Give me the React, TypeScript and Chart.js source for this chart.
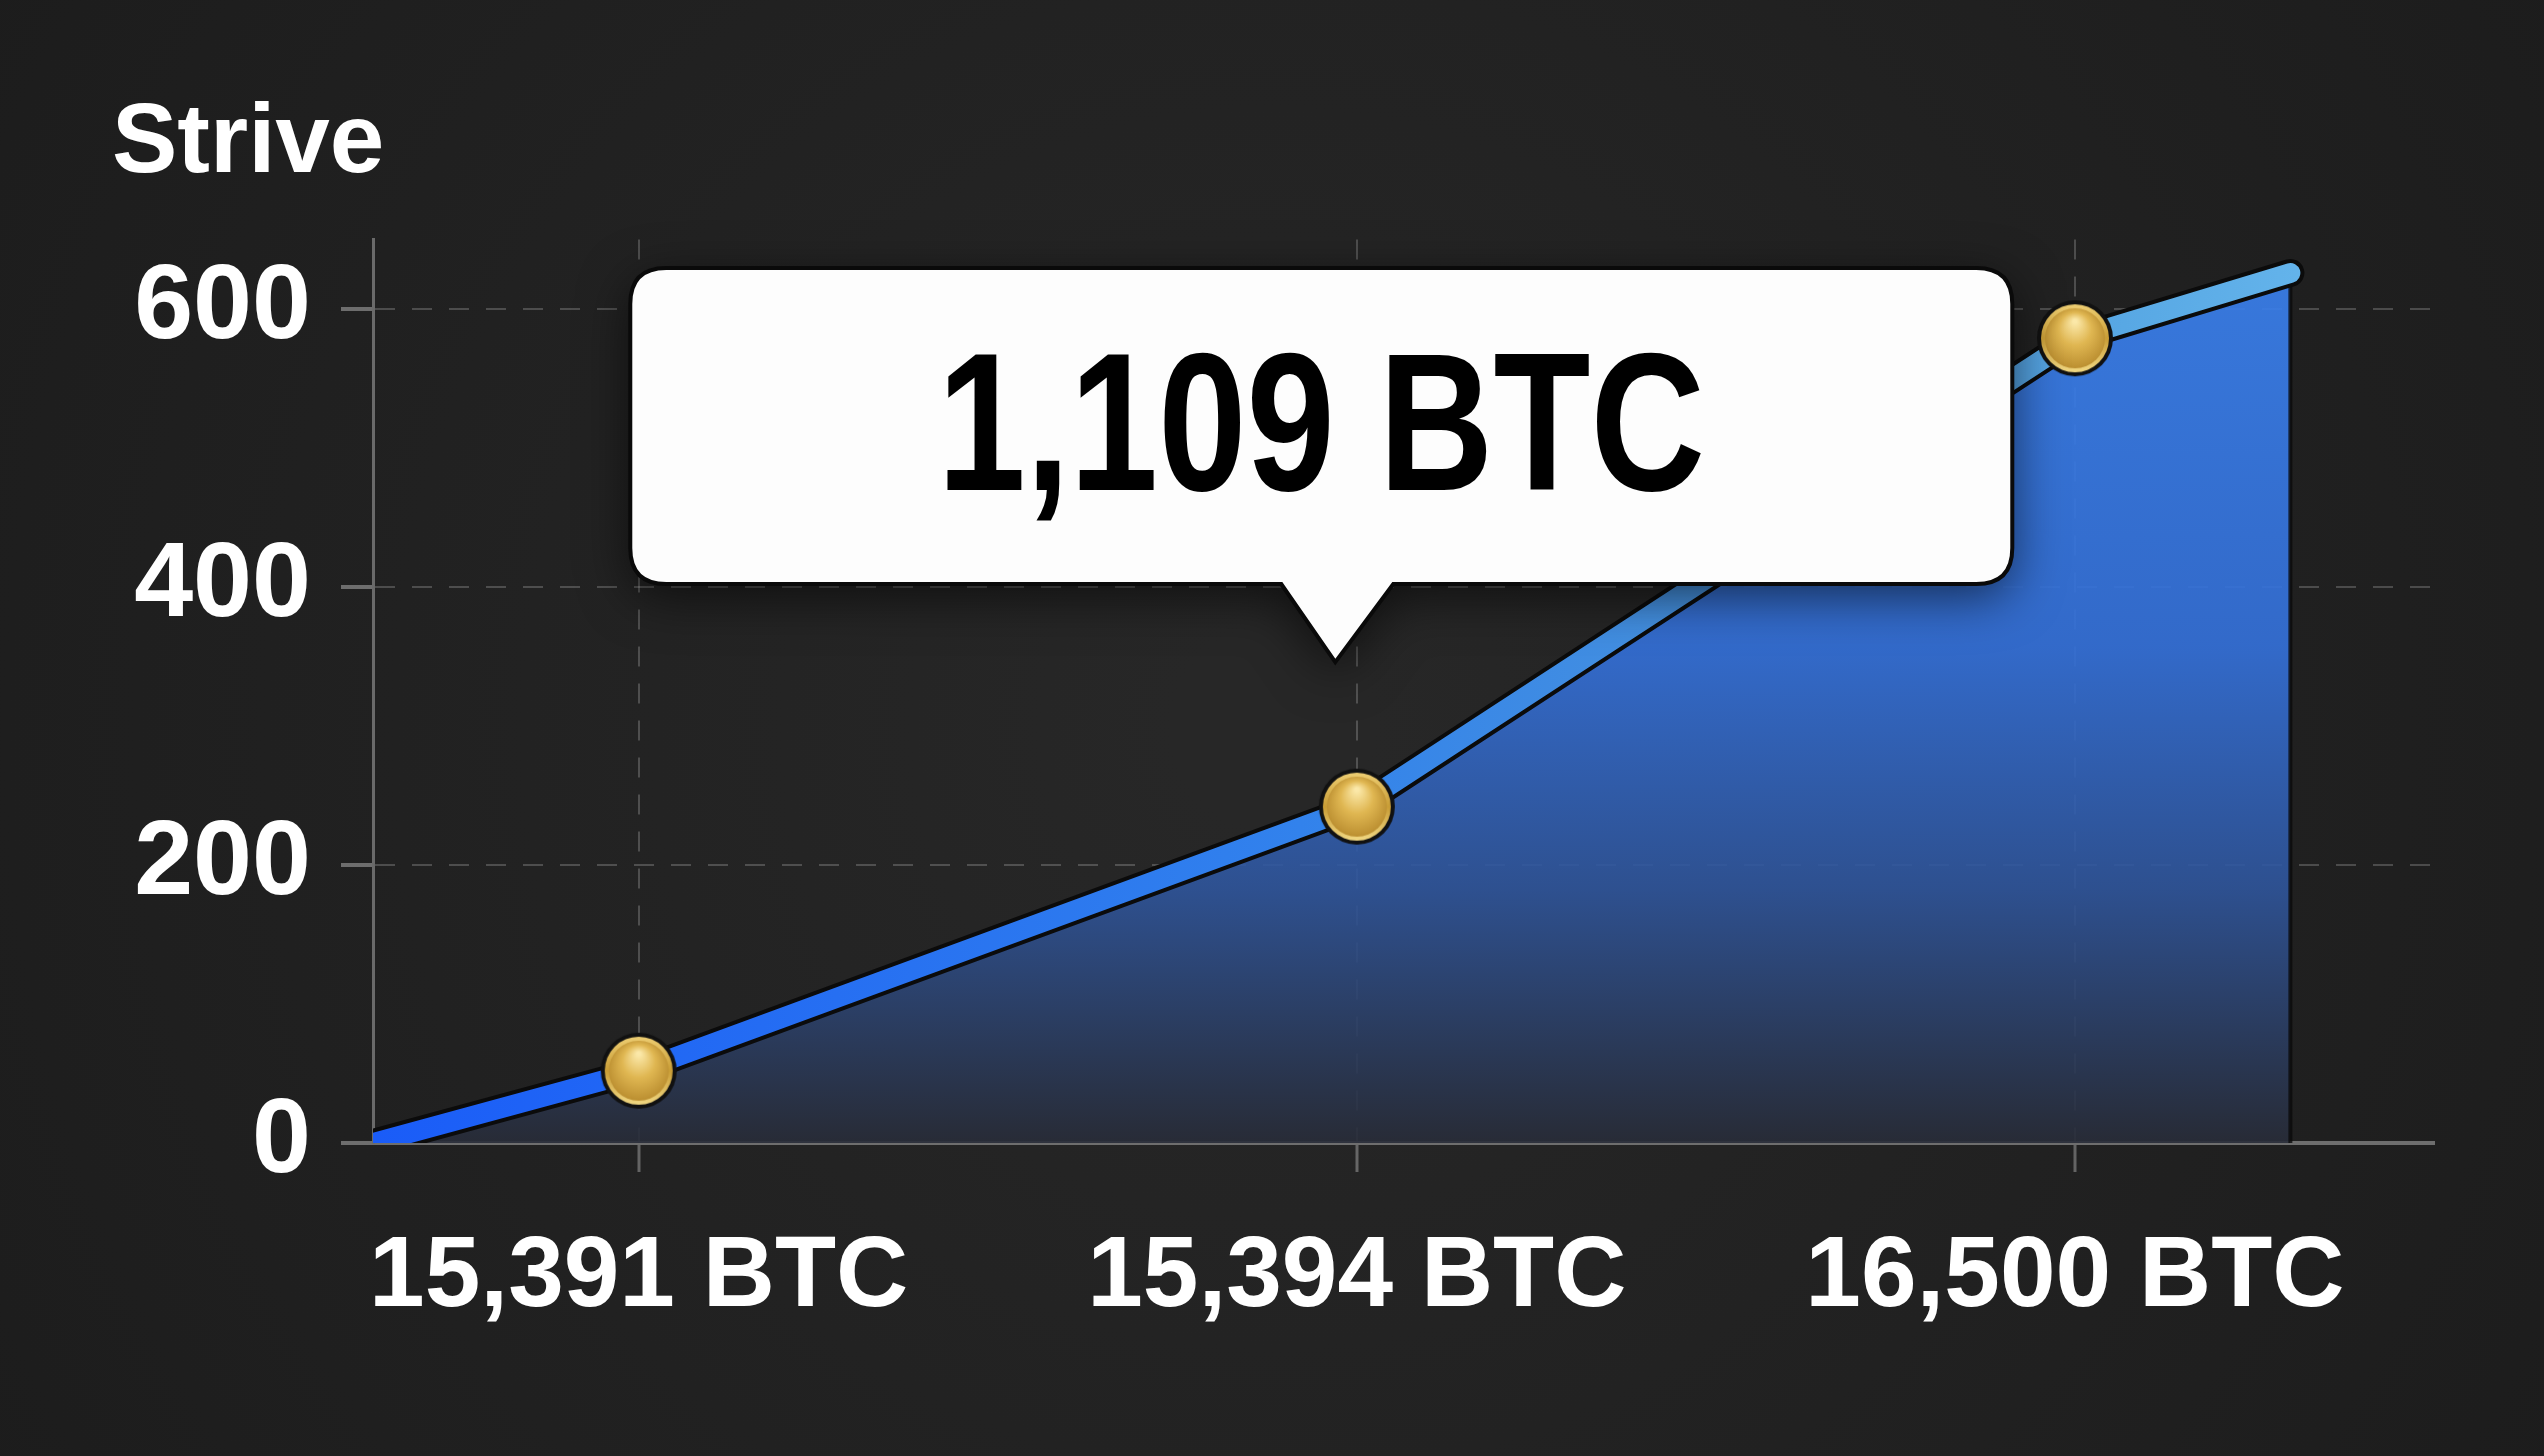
import React, { useEffect, useRef } from 'react';
import { Chart, registerables } from 'chart.js';

Chart.register(...registerables);

// chart content
const chartTitle = 'Strive';
const positions = [-0.37, 0, 1, 2, 2.3];
const values = [0, 52, 242, 579, 626];
const markerRadius = [0, 38, 38, 38, 0];
const xTickValues = [0, 1, 2];
const xTickLabels = ['15,391 BTC', '15,394 BTC', '16,500 BTC'];
const yTickValues = [0, 200, 400, 600];
const calloutLabel = '1,109 BTC';
const calloutX = 0.97;
const calloutY = 346;

const FONT = "'Liberation Sans', Arial, Helvetica, sans-serif";

function makeCoin(r: number) {
    const c = document.createElement('canvas');
    const s = Math.ceil(r * 2 + 4);
    c.width = s;
    c.height = s;
    const g = c.getContext('2d')!;
    const m = s / 2;
    g.beginPath();
    g.arc(m, m, r, 0, Math.PI * 2);
    g.fillStyle = '#111';
    g.fill();
    const rim = g.createLinearGradient(0, m - r, 0, m + r);
    rim.addColorStop(0, '#f2d47a');
    rim.addColorStop(0.5, '#c99d36');
    rim.addColorStop(1, '#f6df8c');
    g.beginPath();
    g.arc(m, m, r - 4, 0, Math.PI * 2);
    g.fillStyle = rim;
    g.fill();
    const face = g.createRadialGradient(m, m - r * 0.45, r * 0.05, m, m, r * 0.9);
    face.addColorStop(0, '#fbe8a8');
    face.addColorStop(0.45, '#e0b752');
    face.addColorStop(1, '#b5882b');
    g.beginPath();
    g.arc(m, m, r - 8, 0, Math.PI * 2);
    g.fillStyle = face;
    g.fill();
    return c;
}

const backgroundPlugin = {
    id: 'bg',
    beforeDraw(chart: any) {
        const { ctx, width, height } = chart;
        const g = ctx.createRadialGradient(width / 2, height / 2, 100, width / 2, height / 2, width * 0.65);
        g.addColorStop(0, '#272727');
        g.addColorStop(1, '#1b1b1b');
        ctx.save();
        ctx.fillStyle = g;
        ctx.fillRect(0, 0, width, height);
        ctx.restore();
    },
};

// dark edge on the right side of the filled area
const fillEdgePlugin = {
    id: 'fillEdge',
    afterDatasetsDraw(chart: any) {
        const { ctx } = chart;
        const last = positions.length - 1;
        const px = chart.scales.x.getPixelForValue(positions[last]);
        const top = chart.scales.y.getPixelForValue(values[last]);
        const bottom = chart.scales.y.getPixelForValue(0);
        ctx.save();
        ctx.strokeStyle = 'rgba(10,10,10,0.8)';
        ctx.lineWidth = 4;
        ctx.beginPath();
        ctx.moveTo(px, top + 14);
        ctx.lineTo(px, bottom);
        ctx.stroke();
        ctx.restore();
    },
};

const calloutPlugin = {
    id: 'callout',
    afterDraw(chart: any) {
        const { ctx } = chart;
        const tipX = chart.scales.x.getPixelForValue(calloutX);
        const tipY = chart.scales.y.getPixelForValue(calloutY);
        const w = 1382, h = 316, r = 36, tail = 78;
        const left = tipX - 14 - w / 2;
        const right = left + w;
        const bottom = tipY - tail;
        const top = bottom - h;

        ctx.save();
        ctx.beginPath();
        ctx.moveTo(left + r, top);
        ctx.lineTo(right - r, top);
        ctx.quadraticCurveTo(right, top, right, top + r);
        ctx.lineTo(right, bottom - r);
        ctx.quadraticCurveTo(right, bottom, right - r, bottom);
        ctx.lineTo(tipX + 58, bottom);
        ctx.lineTo(tipX, tipY);
        ctx.lineTo(tipX - 54, bottom);
        ctx.lineTo(left + r, bottom);
        ctx.quadraticCurveTo(left, bottom, left, bottom - r);
        ctx.lineTo(left, top + r);
        ctx.quadraticCurveTo(left, top, left + r, top);
        ctx.closePath();
        ctx.shadowColor = 'rgba(0,0,0,0.6)';
        ctx.shadowBlur = 50;
        ctx.shadowOffsetY = 12;
        ctx.fillStyle = '#fdfdfd';
        ctx.fill();
        ctx.shadowColor = 'transparent';
        ctx.lineWidth = 4;
        ctx.strokeStyle = '#0a0a0a';
        ctx.stroke();

        ctx.translate(left + w / 2, top + 222);
        ctx.scale(0.81, 1);
        ctx.font = `bold 196px ${FONT}`;
        ctx.fillStyle = '#000';
        ctx.textAlign = 'center';
        ctx.textBaseline = 'alphabetic';
        ctx.fillText(calloutLabel, 0, 0);
        ctx.restore();
    },
};

const lineGradient = (c: any) => {
    const a = c.chart.chartArea;
    if (!a) return '#2f7af0';
    const g = c.chart.ctx.createLinearGradient(a.left, 0, a.right, 0);
    g.addColorStop(0, '#1a5cf8');
    g.addColorStop(0.45, '#3282ec');
    g.addColorStop(0.7, '#4b95da');
    g.addColorStop(0.85, '#58a8e4');
    g.addColorStop(1, '#6cbcf0');
    return g;
};

const fillGradient = (c: any) => {
    const a = c.chart.chartArea;
    if (!a) return 'rgba(50,110,220,0.8)';
    const g = c.chart.ctx.createLinearGradient(0, a.top, 0, a.bottom);
    g.addColorStop(0, 'rgba(58,128,236,0.93)');
    g.addColorStop(0.45, 'rgba(52,112,216,0.92)');
    g.addColorStop(0.72, 'rgba(47,85,155,0.9)');
    g.addColorStop(1, 'rgba(40,44,56,0.9)');
    return g;
};

const App = () => {
    const canvasRef = useRef<HTMLCanvasElement>(null);

    useEffect(() => {
        if (!canvasRef.current) return;
        Chart.defaults.font.family = FONT;
        const coin = makeCoin(38);
        const points = positions.map((x, i) => ({ x, y: values[i] }));

        const chart = new Chart(canvasRef.current, {
            type: 'line',
            data: {
                datasets: [
                    {
                        data: points,
                        borderColor: lineGradient,
                        borderWidth: 20,
                        borderCapStyle: 'round',
                        borderJoinStyle: 'round',
                        tension: 0,
                        fill: false,
                        pointStyle: coin,
                        pointRadius: markerRadius,
                        pointHoverRadius: markerRadius,
                    },
                    {
                        data: points,
                        borderColor: '#0b0b0b',
                        borderWidth: 28,
                        borderCapStyle: 'round',
                        borderJoinStyle: 'round',
                        tension: 0,
                        fill: 'origin',
                        backgroundColor: fillGradient,
                        pointRadius: 0,
                    },
                ],
            },
            options: {
                animation: false,
                responsive: true,
                maintainAspectRatio: false,
                layout: { padding: { left: 112, right: 110, top: 0, bottom: 72 } },
                plugins: {
                    legend: { display: false },
                    tooltip: { enabled: false },
                    title: {
                        display: true,
                        text: chartTitle,
                        align: 'start',
                        color: '#ffffff',
                        font: { size: 98, weight: 'bold' },
                        padding: { top: 86, bottom: 36 },
                    },
                },
                scales: {
                    x: {
                        type: 'linear',
                        min: -0.37,
                        max: 2.5,
                        afterBuildTicks: (s: any) => {
                            s.ticks = xTickValues.map((v) => ({ value: v }));
                        },
                        ticks: {
                            color: '#ffffff',
                            font: { size: 100, weight: 'bold' },
                            padding: 46,
                            maxRotation: 0,
                            autoSkip: false,
                            callback: (v: any) => xTickLabels[xTickValues.indexOf(v)] ?? '',
                        },
                        grid: {
                            color: 'rgba(255,255,255,0.2)',
                            lineWidth: 2,
                            tickLength: 29,
                            tickColor: 'rgba(255,255,255,0.3)',
                            tickWidth: 3,
                        },
                        border: { color: '#6e6e6e', width: 4, dash: [20, 17] },
                    },
                    y: {
                        min: 0,
                        max: 650,
                        afterBuildTicks: (s: any) => {
                            s.ticks = yTickValues.map((v) => ({ value: v }));
                        },
                        afterFit: (s: any) => {
                            s.width = 261;
                        },
                        ticks: {
                            color: '#ffffff',
                            font: { size: 106, weight: 'bold' },
                            padding: 30,
                        },
                        grid: {
                            color: 'rgba(255,255,255,0.2)',
                            lineWidth: 2,
                            tickLength: 32,
                            tickColor: 'rgba(255,255,255,0.35)',
                            tickWidth: 4,
                        },
                        border: { color: '#6a6a6a', width: 3, dash: [20, 17] },
                    },
                },
            },
            plugins: [backgroundPlugin, fillEdgePlugin, calloutPlugin],
        });

        return () => {
            chart.destroy();
        };
    }, []);

    return (
        <div style={{ position: 'fixed', left: 0, top: 0, width: '100vw', height: '100vh', background: '#202020' }}>
            <canvas ref={canvasRef}></canvas>
        </div>
    );
};

export default App;
